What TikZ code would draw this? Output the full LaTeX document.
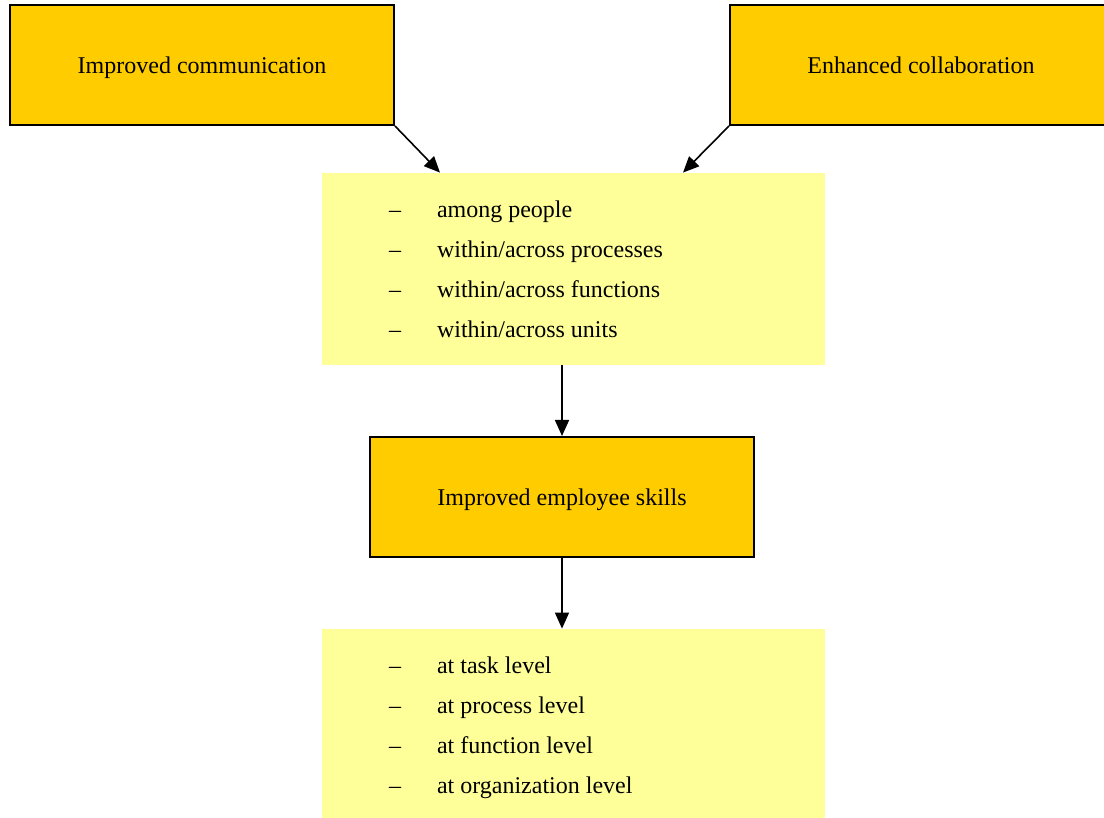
\documentclass[tikz,border=0pt]{standalone}
\usepackage{fontspec}
\setmainfont{Liberation Serif}
\usetikzlibrary{arrows.meta}

\definecolor{gold}{HTML}{FFCC00}
\definecolor{paleyellow}{HTML}{FFFF99}

\newcommand{\dashitem}[1]{\makebox[24pt][l]{--}#1}

\begin{document}
\begin{tikzpicture}[x=0.5pt,y=-0.5pt,
  every node/.style={font=\fontsize{12}{20}\selectfont},
  goldbox/.style={draw=black,line width=1pt,fill=gold,minimum width=192pt,minimum height=60pt,inner sep=0pt,text depth=0pt},
  listbox/.style={fill=paleyellow,minimum width=251.5pt,minimum height=96pt,inner sep=0pt},
  listtext/.style={anchor=west,align=left,inner sep=0pt},
  link/.style={line width=0.8pt,-{Triangle[length=8pt,width=7pt]}}]
\useasboundingbox (0,0) rectangle (1104,818);
\clip (0,0) rectangle (1104,818);
% top boxes
\node[goldbox] (comm) at (202,65) {Improved communication};
\node[goldbox,minimum width=191pt] (collab) at (921,65) {Enhanced collaboration};
% where
\node[listbox] (links) at (573.5,269) {};
\node[listtext] (linkstext) at ([xshift=33.5pt]links.west)
  {\dashitem{among people}\\ \dashitem{within/across processes}\\ \dashitem{within/across functions}\\ \dashitem{within/across units}};
% skills
\node[goldbox] (skills) at (562,497) {Improved employee skills};
\node[listbox] (levels) at (573.5,725) {};
\node[listtext] (levelstext) at ([xshift=33.5pt,yshift=-1.5pt]levels.west)
  {\dashitem{at task level}\\ \dashitem{at process level}\\ \dashitem{at function level}\\ \dashitem{at organization level}};
% arrows
\draw[link] (comm.south east) -- ([xshift=-66.75pt]links.north);
\draw[link] (collab.south west) -- ([xshift=54.75pt]links.north);
\draw[link] (skills.north |- links.south) -- (skills.north);
\draw[link] (skills.south) -- (skills.south |- levels.north);
\end{tikzpicture}
\end{document}
